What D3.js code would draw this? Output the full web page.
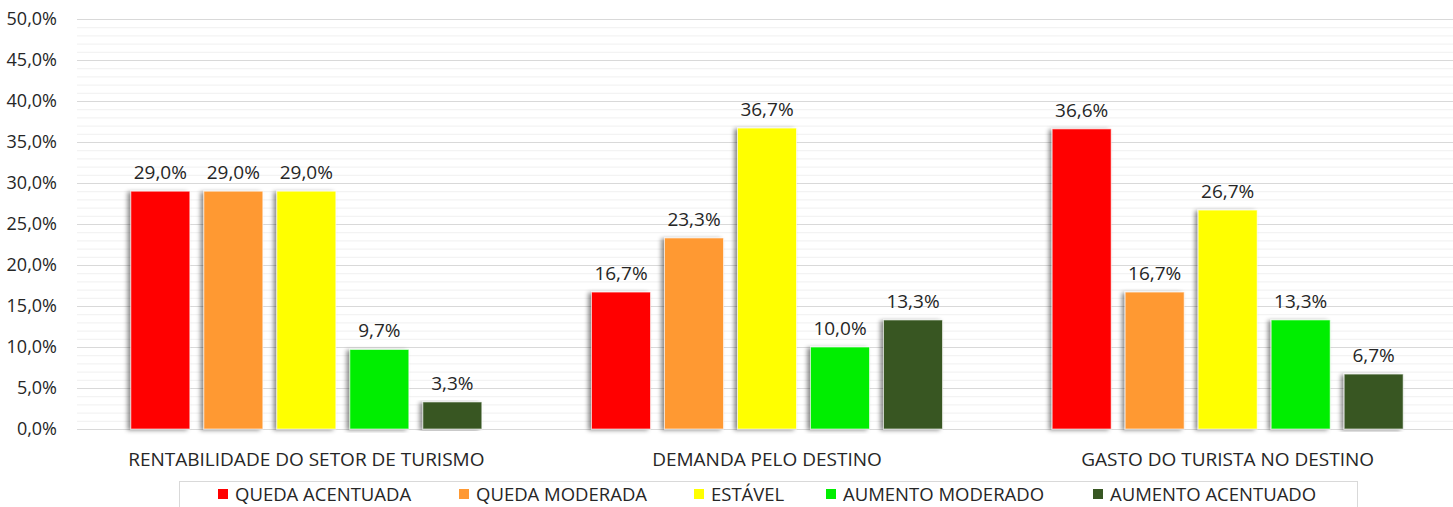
<!DOCTYPE html>
<html>
<head>
<meta charset="utf-8">
<script src="https://cdn.jsdelivr.net/npm/d3@7"></script>
<style>
  body { margin: 0; background: #fff; }
  svg text { font-family: "Open Sans", "Noto Sans", sans-serif; fill: #262626; }
</style>
</head>
<body>
<div id="chart"></div>
<script>
// categories and series
const categories = ["RENTABILIDADE DO SETOR DE TURISMO", "DEMANDA PELO DESTINO", "GASTO DO TURISTA NO DESTINO"];
const seriesNames = ["QUEDA ACENTUADA", "QUEDA MODERADA", "ESTÁVEL", "AUMENTO MODERADO", "AUMENTO ACENTUADO"];
const seriesColors = ["#ff0000", "#ff9933", "#ffff00", "#00ee00", "#385723"];
const quedaAcentuada = [29.0, 16.7, 36.6];
const quedaModerada = [29.0, 23.3, 16.7];
const estavel = [29.0, 36.7, 26.7];
const aumentoModerado = [9.7, 10.0, 13.3];
const aumentoAcentuado = [3.3, 13.3, 6.7];
const yTicks = [0, 5, 10, 15, 20, 25, 30, 35, 40, 45, 50];

const seriesValues = [quedaAcentuada, quedaModerada, estavel, aumentoModerado, aumentoAcentuado];
const fmt = v => v.toFixed(1).replace(".", ",") + "%";

const W = 1453, H = 507;
const plot = { left: 77, right: 1453, top: 19, bottom: 429 };
const FS = "19px";

const svg = d3.select("#chart").append("svg")
    .attr("width", W).attr("height", H);

// left-side shadow like the spreadsheet bars
const defs = svg.append("defs");
defs.append("filter").attr("id", "shadow")
    .attr("x", "-30%").attr("y", "-5%").attr("width", "140%").attr("height", "110%")
    .append("feDropShadow")
    .attr("dx", -3).attr("dy", 1).attr("stdDeviation", 2)
    .attr("flood-color", "#000").attr("flood-opacity", 0.45);

const y = d3.scaleLinear().domain([0, 50]).range([plot.bottom, plot.top]);
const x0 = d3.scaleBand().domain(categories).range([76, 1458]);
const groupW = 351;
const x1 = d3.scaleBand().domain(seriesNames).range([0, groupW]).paddingInner(14 / 73);

// minor gridlines
svg.append("g").selectAll("line")
    .data(d3.range(0, 51, 1).filter(v => v % 5 !== 0))
    .join("line")
    .attr("x1", plot.left).attr("x2", plot.right)
    .attr("y1", d => y(d) + 0.5).attr("y2", d => y(d) + 0.5)
    .attr("stroke", "#f0f0f0");

// major gridlines
svg.append("g").selectAll("line")
    .data(yTicks)
    .join("line")
    .attr("x1", plot.left).attr("x2", plot.right)
    .attr("y1", d => y(d) + 0.5).attr("y2", d => y(d) + 0.5)
    .attr("stroke", "#d9d9d9");

// y axis labels
const yAxis = svg.append("g")
    .attr("transform", "translate(" + (plot.left - 20) + ",0)")
    .call(d3.axisLeft(y).tickValues(yTicks).tickFormat(fmt).tickSize(0).tickPadding(0));
yAxis.select(".domain").remove();
yAxis.selectAll("text").style("font-size", "18px").attr("fill", "#262626");

// bars
const groups = svg.append("g").selectAll("g")
    .data(categories)
    .join("g")
    .attr("transform", d => "translate(" + (x0(d) + (x0.bandwidth() - groupW) / 2) + ",0)");

const cells = groups.selectAll("g")
    .data((c, i) => seriesNames.map((s, j) => ({ s: s, j: j, v: seriesValues[j][i] })))
    .join("g");

cells.append("rect")
    .attr("x", d => x1(d.s))
    .attr("width", x1.bandwidth())
    .attr("y", d => y(d.v))
    .attr("height", d => y(0) - y(d.v))
    .attr("fill", d => seriesColors[d.j])
    .attr("stroke", "#ffffff")
    .attr("stroke-opacity", 0.6)
    .attr("filter", "url(#shadow)");

cells.append("text")
    .attr("x", d => x1(d.s) + x1.bandwidth() / 2)
    .attr("y", d => y(d.v) - 12)
    .attr("text-anchor", "middle")
    .style("font-size", FS)
    .text(d => fmt(d.v));

// category labels
svg.append("g").selectAll("text")
    .data(categories)
    .join("text")
    .attr("x", d => x0(d) + x0.bandwidth() / 2)
    .attr("y", 466)
    .attr("text-anchor", "middle")
    .style("font-size", FS)
    .text(d => d);

// legend
svg.append("rect")
    .attr("x", 179.5).attr("y", 481.5)
    .attr("width", 1178).attr("height", 40)
    .attr("fill", "none").attr("stroke", "#d9d9d9");

const legendX = [218, 459, 694, 826, 1093];
const legend = svg.append("g").selectAll("g")
    .data(seriesNames)
    .join("g")
    .attr("transform", (d, i) => "translate(" + legendX[i] + ",489)");
legend.append("rect")
    .attr("width", 10).attr("height", 10)
    .attr("fill", (d, i) => seriesColors[i]);
legend.append("text")
    .attr("x", 17).attr("y", 12)
    .style("font-size", "18.5px")
    .text(d => d);
</script>
</body>
</html>
